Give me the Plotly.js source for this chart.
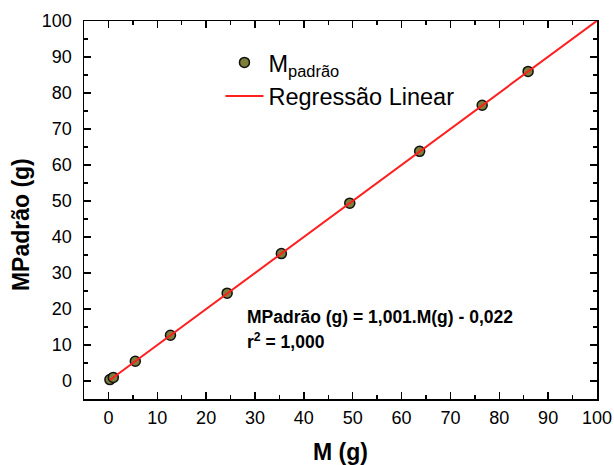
<!DOCTYPE html>
<html>
<head>
<meta charset="utf-8">
<script src="https://cdn.plot.ly/plotly-3.0.1.min.js"></script>
<style>html,body{margin:0;padding:0;background:#fff;}#chart{width:614px;height:465px;}</style>
</head>
<body>
<div id="chart"></div>
<script>
// Data
const mValues = [0.3, 1.0, 5.5, 12.7, 24.3, 35.4, 49.4, 63.7, 76.5, 85.9];
const mPadraoValues = [0.4, 1.0, 5.5, 12.7, 24.4, 35.4, 49.4, 63.8, 76.6, 86.0];
const regressionSlope = 1.001;
const regressionIntercept = -0.022;
const regressionXRange = [0.3, 100];
const tickValues = [0, 10, 20, 30, 40, 50, 60, 70, 80, 90, 100];
const tickLabels = ['0', '10', '20', '30', '40', '50', '60', '70', '80', '90', '100'];
const seriesNames = ['M<sub>padrão</sub>', 'Regressão Linear'];
const xTitle = 'M (g)';
const yTitle = 'MPadrão (g)';
const equationText = 'MPadrão (g) = 1,001.M(g) - 0,022';
const r2Text = 'r<sup>2</sup> = 1,000';

const regY = regressionXRange.map(x => regressionSlope * x + regressionIntercept);

const FONT = 'Liberation Sans, Arial, sans-serif';

const traces = [
  {
    x: mValues, y: mPadraoValues, type: 'scatter', mode: 'markers',
    name: seriesNames[0],
    marker: {size: 10, color: '#7f7f3a', line: {color: '#111', width: 1.5}}
  },
  {
    x: regressionXRange, y: regY, type: 'scatter', mode: 'lines',
    name: seriesNames[1],
    line: {color: '#ff1f1f', width: 2}
  }
];

function axis() {
  return {
    range: [-5, 100],
    tickmode: 'array', tickvals: tickValues, ticktext: tickLabels,
    ticks: 'inside', ticklen: 7, tickwidth: 1.5, tickcolor: '#000',
    minor: {dtick: 5, tick0: 5, ticks: 'inside', ticklen: 4, tickwidth: 1.5, tickcolor: '#000', showgrid: false},
    showline: true, linecolor: '#000', linewidth: 1.5, mirror: 'ticks',
    showgrid: false, zeroline: false,
    tickfont: {family: FONT, size: 18, color: '#000'},
    automargin: false
  };
}

const xa = axis();
xa.ticklabelstandoff = 2;
xa.title = {text: '<b>' + xTitle + '</b>', standoff: 17, font: {family: FONT, size: 23, color: '#000'}};
const ya = axis();
ya.ticklabelstandoff = 7;

const layout = {
  width: 614, height: 465,
  margin: {l: 84, r: 17, t: 21, b: 66},
  paper_bgcolor: '#fff', plot_bgcolor: '#fff',
  xaxis: xa, yaxis: ya,
  showlegend: true,
  legend: {
    x: 0.266, y: 0.948, xanchor: 'left', yanchor: 'top',
    bgcolor: 'rgba(0,0,0,0)', borderwidth: 0,
    font: {family: FONT, size: 23.5, color: '#000'},
    itemwidth: 38,
    tracegroupgap: 0
  },
  annotations: [
    {x: -0.1228, y: 0.46, xref: 'paper', yref: 'paper', text: '<b>' + yTitle + '</b>', showarrow: false,
     textangle: -90, xanchor: 'center', yanchor: 'middle', font: {family: FONT, size: 23, color: '#000'}},
    {x: 27.9, y: 17.9, xref: 'x', yref: 'y', text: '<b>' + equationText + '</b>', showarrow: false,
     xanchor: 'left', yanchor: 'middle', font: {family: FONT, size: 17.5, color: '#000'}},
    {x: 27.9, y: 11.0, xref: 'x', yref: 'y', text: '<b>' + r2Text + '</b>', showarrow: false,
     xanchor: 'left', yanchor: 'middle', font: {family: FONT, size: 17.5, color: '#000'}}
  ]
};

Plotly.newPlot('chart', traces, layout, {displayModeBar: false, staticPlot: true});
</script>
</body>
</html>
